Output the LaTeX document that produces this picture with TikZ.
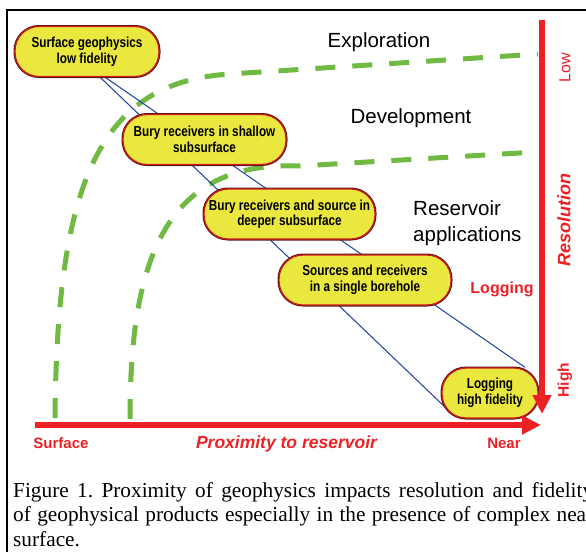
\documentclass[tikz,border=0pt]{standalone}
\usepackage{fontspec}
\setmainfont{Liberation Serif}
\setsansfont{Liberation Sans}
\newfontfamily\narrowfont[FakeStretch=0.81]{Liberation Sans}
\usepackage{tikz}
\usetikzlibrary{arrows.meta,positioning,calc,backgrounds}
\definecolor{geored}{RGB}{237,32,36}
\definecolor{geoblue}{RGB}{45,75,165}
\definecolor{geogreen}{RGB}{112,186,68}
\definecolor{geoyellow}{RGB}{234,232,62}
\definecolor{georim}{RGB}{205,28,28}
\definecolor{geoedge}{RGB}{85,20,20}
\frenchspacing

\begin{document}
\begin{tikzpicture}[
 x=1pt,y=-1pt,
 stage/.style={rectangle,rounded corners=24pt,fill=geoyellow,draw=georim,line width=1.3pt,
   preaction={draw=geoedge,line width=3pt},minimum height=50pt,inner sep=1pt,
   align=center,font=\narrowfont\bfseries\fontsize{14.5}{15.5}\selectfont},
 region/.style={font=\sffamily\fontsize{20.5}{26}\selectfont,inner sep=0pt},
 axlab/.style={text=geored,font=\sffamily\bfseries\fontsize{15}{18}\selectfont,inner sep=0pt},
 captext/.style={font=\rmfamily\fontsize{21.3}{24.5}\selectfont,text width=580pt,align=justify,inner sep=0pt},
 link/.style={geoblue,line width=1.1pt},
 bound/.style={geogreen,line width=5pt,dash pattern=on 20pt off 17pt},
 axis/.style={geored,line width=6pt,-{Triangle[length=19pt,width=18pt]}}
]
\useasboundingbox (0,0) rectangle (586,552);
\clip (0,0) rectangle (586,552);
\draw[line width=2.5pt] (7,552) -- (7,10) -- (590,10);

\node[stage,minimum width=144pt] (surf) at (87,51.5) {Surface geophysics\\low fidelity};
\node[stage,minimum width=163pt] (shal) at (204.5,139.5) {Bury receivers in shallow\\subsurface};
\node[stage,minimum width=171pt] (deep) at (289.5,214) {Bury receivers and source in\\deeper subsurface};
\node[stage,minimum width=172pt] (bore) at (365,280) {Sources and receivers\\in a single borehole};
\node[stage,minimum width=96pt] (logg) at (490,393) {Logging\\high fidelity};

\begin{scope}[on background layer]
\draw[bound] (55,418) .. controls (57,180) and (100,82) .. (230,74) -- (538,54);
\draw[bound] (130,419) .. controls (130,260) and (165,160) .. (300,166) -- (536,152);
\draw[link] ($(surf.south)+(13,0)$) -- ($(logg.center)+(-44,15)$);
\draw[link] ($(surf.south)+(18,0)$) -- ($(logg.north)+(35,0)$);
\end{scope}

\node[region,anchor=base] (expl) at (379,47) {Exploration};
\node[region,anchor=base] (devl) at (411,123) {Development};
\node[region,align=left,anchor=north west] (resv) at (413,200) {Reservoir\\applications};

\coordinate (orig) at (35,425);
\coordinate (xend) at (541,425);
\coordinate (ytop) at (542,20);
\coordinate (yend) at (542,414);
\draw[axis] (orig) -- (xend);
\draw[axis] (ytop) -- (yend);

\node[axlab,anchor=base] (surfl) at (61,448) {Surface};
\node[axlab,anchor=base] (nearl) at (504,448) {Near};
\node[axlab,anchor=base,font=\sffamily\bfseries\itshape\fontsize{17.5}{20}\selectfont] (prox) at (286.5,448) {Proximity to reservoir};
\node[axlab,anchor=base,font=\sffamily\bfseries\fontsize{16}{18}\selectfont] (logl) at (502,293) {Logging};
\node[axlab,rotate=90,font=\sffamily\fontsize{16}{18}\selectfont] (lowl) at (565,68) {Low};
\node[axlab,rotate=90,font=\sffamily\bfseries\itshape\fontsize{18}{20}\selectfont] (resl) at (564,220) {Resolution};
\node[axlab,rotate=90,font=\sffamily\bfseries\fontsize{15.5}{18}\selectfont] (highl) at (565,380) {High};

\node[captext,anchor=north west] (cap) at (13,482) {Figure 1. Proximity of geophysics impacts resolution and fidelity\linebreak of geophysical products especially in the presence of complex near\linebreak surface.};
\end{tikzpicture}
\end{document}
